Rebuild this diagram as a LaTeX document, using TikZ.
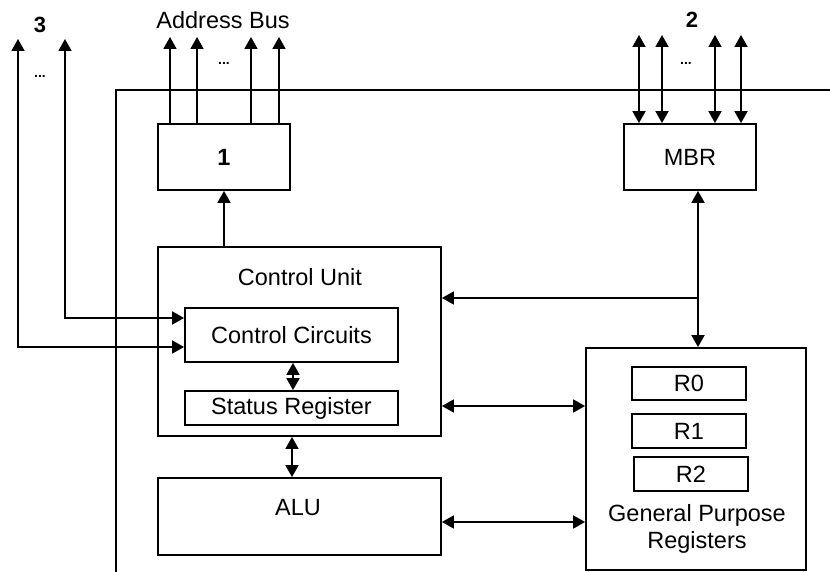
\documentclass[tikz,border=0pt]{standalone}
\usepackage{fontspec}
\setmainfont{Liberation Sans}
\usetikzlibrary{arrows.meta}
\begin{document}
\begin{tikzpicture}[x=1pt,y=-1pt,
  every node/.style={font=\fontsize{23.5}{27}\selectfont},
  box/.style={draw,line width=1.8pt,inner sep=0pt,rectangle},
  ln/.style={line width=1.8pt},
  arr/.style={ln,-{Triangle[length=12pt,width=13pt]}},
  dbl/.style={ln,{Triangle[length=12pt,width=13pt]}-{Triangle[length=12pt,width=13pt]}},
  bnum/.style={font=\fontsize{22}{27}\selectfont\bfseries},
  dots/.style={font=\fontsize{14}{16}\selectfont\bfseries}]
\useasboundingbox (0,0) rectangle (830,572);
% outer frame
\draw[ln] (116,573) -- (116,90) -- (831,90);
% boxes
\node[box,minimum width=132pt,minimum height=66pt] (one) at (224,157) {\bfseries 1};
\node[box,minimum width=132pt,minimum height=66pt] (mbr) at (690,157) {MBR};
\node[box,minimum width=283pt,minimum height=189pt] (cu) at (299.5,341.5) {};
\node (cul) at (300,277) {Control Unit};
\node[box,minimum width=213pt,minimum height=54pt] (cc) at (291.5,335) {Control Circuits};
\node[box,minimum width=213pt,minimum height=34pt] (sr) at (291.5,408) {Status Register};
\node[box,minimum width=283pt,minimum height=77pt] (alu) at (299.5,516.5) {};
\node (alul) at (298,508) {ALU};
\node[box,minimum width=220pt,minimum height=222pt] (gpr) at (696,459) {};
\node[box,minimum width=114pt,minimum height=33pt] (r0) at (689,383.5) {R0};
\node[box,minimum width=114pt,minimum height=34pt] (r1) at (689,431) {R1};
\node[box,minimum width=114pt,minimum height=34pt] (r2) at (691,474) {R2};
\node[align=center,inner sep=0pt] (gprl) at (697,529) {General Purpose\\Registers};
% labels
\node (ab) at (223,20) {Address Bus};
\node[bnum] (n3) at (40,25) {3};
\node[bnum] (n2) at (692,20) {2};
\node[dots] (d1) at (224,63) {...};
\node[dots] (d2) at (686,63) {...};
\node[dots] (d3) at (40,76) {...};
% address bus
\foreach \x [count=\i] in {170,197,251,279} {
  \coordinate (ab\i) at (\x,37);
  \draw[arr] (ab\i |- one.north) -- (ab\i);
}
% data bus
\foreach \x [count=\i] in {639,662,715,741} {
  \coordinate (db\i) at (\x,35);
  \draw[dbl] (db\i) -- (db\i |- mbr.north);
}
% control lines
\coordinate (c3a) at (18,39);
\coordinate (c3b) at (65,39);
\draw[dbl] (c3a) |- (cc.west |- 0,347);
\draw[dbl] (c3b) |- (cc.west |- 0,318);
% box 1 <- control unit
\draw[arr] (one.south |- cu.north) -- (one.south);
% MBR <-> GPR
\coordinate (mx) at (698,298);
\draw[dbl] (mbr.south -| mx) -- (gpr.north -| mx);
\draw[arr] (mx) -- (cu.east |- mx);
% inner
\draw[dbl] (cc.south -| 293,0) -- (sr.north -| 293,0);
\draw[dbl] (cu.south -| 292,0) -- (alu.north -| 292,0);
\draw[dbl] (cu.east |- 0,406) -- (gpr.west |- 0,406);
\draw[dbl] (alu.east |- 0,522) -- (gpr.west |- 0,522);
\end{tikzpicture}
\end{document}
